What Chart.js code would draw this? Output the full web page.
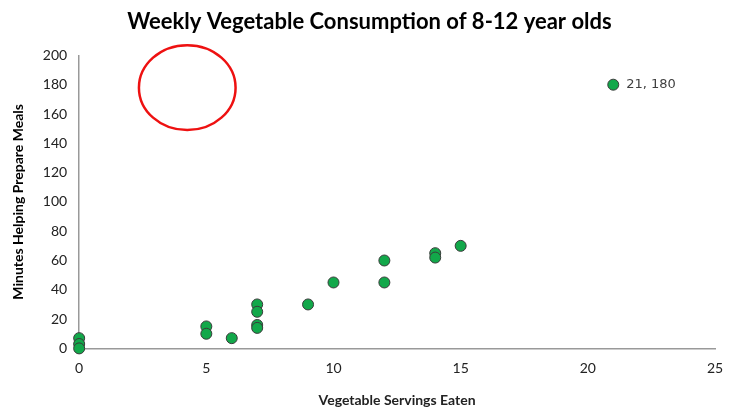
<!DOCTYPE html>
<html>
<head>
<meta charset="utf-8">
<script src="https://cdn.jsdelivr.net/npm/chart.js@4"></script>
<style>
	html, body { margin: 0; padding: 0; background: #fff; }
	#wrap { width: 729px; height: 411px; }
</style>
</head>
<body>
<div id="wrap"><canvas id="myChart" width="729" height="411"></canvas></div>
<script>
// servings eaten per week vs minutes helping with meals
var servings = [0, 0, 0, 5, 5, 6, 7, 7, 7, 7, 9, 10, 12, 12, 14, 14, 15, 21];
var minutes = [7, 3, 0, 15, 10, 7, 30, 25, 16, 14, 30, 45, 60, 45, 65, 62, 70, 180];
var xTicks = [0, 5, 10, 15, 20, 25];
var yTicks = [0, 20, 40, 60, 80, 100, 120, 140, 160, 180, 200];

// highlighted point label and the hand-drawn red ring (in data units)
var labelPoint = { x: 21, y: 180, text: '21, 180' };
var ring = { x: 4.25, y: 178, rx: 1.9, ry: 29 };

var points = [];
for (var i = 0; i < servings.length; i++) {
	points.push({ x: servings[i], y: minutes[i] });
}

var extras = {
	id: 'extras',
	afterDatasetsDraw: function(chart) {
		var ctx = chart.ctx;
		var xs = chart.scales.x, ys = chart.scales.y;
		ctx.save();
		// label next to the outlier
		ctx.fillStyle = '#404040';
		ctx.font = '13px "DejaVu Sans", sans-serif';
		ctx.textBaseline = 'middle';
		ctx.fillText(labelPoint.text, xs.getPixelForValue(labelPoint.x) + 13, ys.getPixelForValue(labelPoint.y));
		// red ellipse
		var cx = xs.getPixelForValue(ring.x), cy = ys.getPixelForValue(ring.y);
		var rx = Math.abs(xs.getPixelForValue(ring.x + ring.rx) - cx);
		var ry = Math.abs(ys.getPixelForValue(ring.y + ring.ry) - cy);
		ctx.beginPath();
		ctx.ellipse(cx, cy, rx, ry, 0, 0, Math.PI * 2);
		ctx.strokeStyle = '#ee1111';
		ctx.lineWidth = 2.5;
		ctx.stroke();
		ctx.restore();
	}
};

var ctx = document.getElementById('myChart').getContext('2d');
var chart = new Chart(ctx, {
	type: 'scatter',
	data: {
		datasets: [{
			label: 'Minutes',
			data: points,
			backgroundColor: '#12a84a',
			borderColor: '#3a3a3a',
			borderWidth: 1,
			pointRadius: 5.5,
			pointHoverRadius: 5.5,
			clip: false
		}]
	},
	plugins: [extras],
	options: {
		responsive: false,
		animation: false,
		layout: { padding: { left: 10, right: 0, top: 9, bottom: 0 } },
		plugins: {
			legend: { display: false },
			tooltip: { enabled: false },
			title: {
				display: true,
				text: 'Weekly Vegetable Consumption of 8-12 year olds',
				color: '#000',
				font: { family: 'Lato', size: 22, weight: 'bold' },
				padding: { top: 0, bottom: 20 }
			}
		},
		scales: {
			x: {
				type: 'linear',
				min: 0,
				max: 25,
				afterBuildTicks: function(s) { s.ticks = xTicks.map(function(v) { return { value: v }; }); },
				afterFit: function(s) { s.paddingRight = 14; },
				grid: { display: false, drawTicks: false },
				border: { color: '#999', width: 1.5 },
				ticks: { color: '#222', font: { family: 'Lato', size: 14 }, padding: 12 },
				title: {
					display: true,
					text: 'Vegetable Servings Eaten',
					color: '#222',
					font: { family: 'Lato', size: 14, weight: 'bold' },
					padding: { top: 3, bottom: 2 }
				}
			},
			y: {
				min: 0,
				max: 200,
				afterBuildTicks: function(s) { s.ticks = yTicks.map(function(v) { return { value: v }; }); },
				grid: { display: false, drawTicks: false },
				border: { color: '#999', width: 1.5 },
				ticks: { color: '#222', font: { family: 'Lato', size: 14 }, padding: 12 },
				title: {
					display: true,
					text: 'Minutes Helping Prepare Meals',
					color: '#000',
					font: { family: 'Lato', size: 14, weight: 'bold' },
					padding: { top: 0, bottom: 4 }
				}
			}
		}
	}
});
</script>
</body>
</html>
